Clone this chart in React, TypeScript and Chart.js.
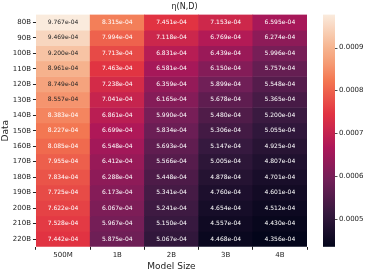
import React, { useEffect, useRef } from "react";
import { Chart, registerables } from "chart.js";

Chart.register(...registerables);

const modelSizes = ["500M", "1B", "2B", "3B", "4B"];
const dataSizes = ["80B", "90B", "100B", "110B", "120B", "130B", "140B", "150B", "160B", "170B", "180B", "190B", "200B", "210B", "220B"];
const col500M = [9.767e-4, 9.469e-4, 9.2e-4, 8.961e-4, 8.749e-4, 8.557e-4, 8.383e-4, 8.227e-4, 8.085e-4, 7.955e-4, 7.834e-4, 7.725e-4, 7.622e-4, 7.528e-4, 7.442e-4];
const col1B = [8.315e-4, 7.994e-4, 7.713e-4, 7.463e-4, 7.238e-4, 7.041e-4, 6.861e-4, 6.699e-4, 6.548e-4, 6.412e-4, 6.288e-4, 6.173e-4, 6.067e-4, 5.967e-4, 5.875e-4];
const col2B = [7.451e-4, 7.118e-4, 6.831e-4, 6.581e-4, 6.359e-4, 6.165e-4, 5.99e-4, 5.834e-4, 5.693e-4, 5.566e-4, 5.448e-4, 5.341e-4, 5.241e-4, 5.15e-4, 5.067e-4];
const col3B = [7.153e-4, 6.769e-4, 6.439e-4, 6.15e-4, 5.899e-4, 5.678e-4, 5.48e-4, 5.306e-4, 5.147e-4, 5.005e-4, 4.878e-4, 4.76e-4, 4.654e-4, 4.557e-4, 4.468e-4];
const col4B = [6.595e-4, 6.274e-4, 5.996e-4, 5.757e-4, 5.548e-4, 5.365e-4, 5.2e-4, 5.055e-4, 4.925e-4, 4.807e-4, 4.701e-4, 4.601e-4, 4.512e-4, 4.43e-4, 4.356e-4];
const columns = [col500M, col1B, col2B, col3B, col4B];
const colorbarTicks = [0.0005, 0.0006, 0.0007, 0.0008, 0.0009];
const titleText = "η(N,D)";

const rocketPos = [0, 1 / 7, 2 / 7, 3 / 7, 4 / 7, 5 / 7, 5.5 / 7, 6 / 7, 1];
const rocketStops: [number, number, number][] = [
  [3, 5, 26], [53, 25, 62], [112, 31, 87], [173, 23, 89],
  [225, 51, 66], [243, 118, 81], [245, 153, 114], [246, 180, 143], [250, 235, 221],
];

const allVals = columns.flat();
const vMin = Math.min(...allVals);
const vMax = Math.max(...allVals);

function rocket(t: number): [number, number, number] {
  t = Math.max(0, Math.min(1, t));
  let i = 0;
  while (i < rocketPos.length - 2 && t > rocketPos[i + 1]) i++;
  const f = (t - rocketPos[i]) / (rocketPos[i + 1] - rocketPos[i]);
  const a = rocketStops[i], b = rocketStops[i + 1];
  return [a[0] + (b[0] - a[0]) * f, a[1] + (b[1] - a[1]) * f, a[2] + (b[2] - a[2]) * f];
}
function rgb(c: [number, number, number]) {
  return `rgb(${Math.round(c[0])},${Math.round(c[1])},${Math.round(c[2])})`;
}
function lum(c: [number, number, number]) {
  const l = c.map((v) => {
    const s = v / 255;
    return s <= 0.03928 ? s / 12.92 : Math.pow((s + 0.055) / 1.055, 2.4);
  });
  return 0.2126 * l[0] + 0.7152 * l[1] + 0.0722 * l[2];
}
function fmt(v: number) {
  const s = v.toExponential(3);
  const [m, e] = s.split("e");
  const sign = e[0] === "-" ? "-" : "+";
  const d = e.replace(/^[-+]/, "").padStart(2, "0");
  return `${m}e${sign}${d}`;
}

export default function App() {
  const ref = useRef<HTMLCanvasElement>(null);
  useEffect(() => {
    const ctx = ref.current!.getContext("2d")!;
    Chart.defaults.font.family = "'DejaVu Sans', sans-serif";
    Chart.defaults.color = "#222";
    const datasets = dataSizes.map((row, i) => ({
      label: row,
      data: modelSizes.map((m, j) => ({ x: m, y: [i - 0.5, i + 0.5] })),
      backgroundColor: modelSizes.map((m, j) => rgb(rocket((columns[j][i] - vMin) / (vMax - vMin)))),
      borderWidth: 0,
      barPercentage: 1,
      categoryPercentage: 1,
      grouped: false,
    }));

    const annot = {
      id: "annot",
      afterDatasetsDraw(chart: any) {
        const c = chart.ctx;
        const xs = chart.scales.x, ys = chart.scales.y;
        c.save();
        c.font = "6px 'DejaVu Sans', sans-serif";
        c.textAlign = "center";
        c.textBaseline = "middle";
        columns.forEach((col, j) => {
          col.forEach((v, i) => {
            const color = rocket((v - vMin) / (vMax - vMin));
            c.fillStyle = lum(color) > 0.408 ? "#262626" : "#ffffff";
            c.fillText(fmt(v), xs.getPixelForValue(j), ys.getPixelForValue(i));
          });
        });
        // colorbar
        const cb = chart.scales.cb;
        const x0 = cb.left + 16, x1 = cb.left + 28;
        const top = cb.getPixelForValue(vMax), bot = cb.getPixelForValue(vMin);
        const g = c.createLinearGradient(0, bot, 0, top);
        for (let k = 0; k <= 56; k++) g.addColorStop(k / 56, rgb(rocket(k / 56)));
        c.fillStyle = g;
        c.fillRect(x0, top, x1 - x0, bot - top);
        c.strokeStyle = "#222";
        c.lineWidth = 0.8;
        colorbarTicks.forEach((t) => {
          const y = Math.round(cb.getPixelForValue(t)) + 0.5;
          c.beginPath();
          c.moveTo(x1, y);
          c.lineTo(x1 + 2.5, y);
          c.stroke();
        });
        c.restore();
      },
    };

    const chart = new Chart(ctx, {
      type: "bar",
      data: { labels: modelSizes, datasets: datasets as any },
      options: {
        animation: false,
        responsive: false,
        maintainAspectRatio: false,
        layout: { padding: { left: 0, right: 0, top: 0, bottom: 2 } },
        plugins: {
          legend: { display: false },
          tooltip: { enabled: false },
          title: {
            display: true,
            text: titleText,
            font: { size: 8, weight: "normal" },
            color: "#222",
            padding: { top: 2, bottom: 3 },
          },
        },
        scales: {
          x: {
            type: "category",
            offset: true,
            grid: { display: true, drawOnChartArea: false, drawTicks: true, tickLength: 3, color: "#222" },
            border: { display: false },
            ticks: { font: { size: 7 }, padding: 1, maxRotation: 0 },
            title: { display: true, text: "Model Size", font: { size: 9 }, padding: { top: 1, bottom: 0 } },
          },
          y: {
            type: "linear",
            reverse: true,
            min: -0.5,
            max: dataSizes.length - 0.5,
            afterBuildTicks: (s: any) => {
              s.ticks = dataSizes.map((_, i) => ({ value: i }));
            },
            grid: { display: true, drawOnChartArea: false, drawTicks: true, tickLength: 3, color: "#222" },
            border: { display: false },
            ticks: {
              font: { size: 7 },
              padding: 2,
              autoSkip: false,
              callback: (v: any) => dataSizes[v] ?? "",
            },
            title: { display: true, text: "Data", font: { size: 9 }, padding: { top: 0, bottom: 0 } },
          },
          cb: {
            type: "linear",
            position: "right",
            min: vMin,
            max: vMax,
            afterBuildTicks: (s: any) => {
              s.ticks = colorbarTicks.map((v) => ({ value: v }));
            },
            afterFit: (s: any) => {
              s.width = 62;
            },
            grid: { display: false, drawTicks: true, tickLength: 32 },
            border: { display: false },
            ticks: {
              font: { size: 7 },
              padding: 0,
              callback: (v: any) => Number(v).toFixed(4),
            },
          },
        } as any,
      },
      plugins: [annot],
    });
    return () => chart.destroy();
  }, []);
  return (
    <div style={{ position: "fixed", left: 0, top: 0, width: 369, height: 274, background: "#fff" }}>
      <canvas ref={ref} width={369} height={274} style={{ width: 369, height: 274, display: "block" }} />
    </div>
  );
}
